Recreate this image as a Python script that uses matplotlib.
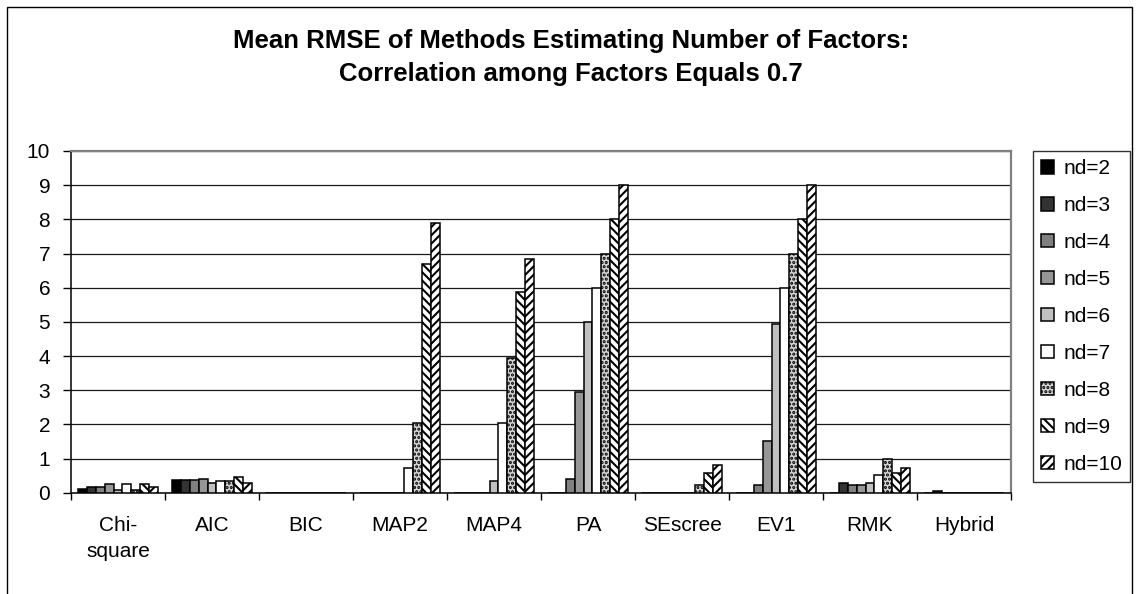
import matplotlib
matplotlib.use("Agg")
import matplotlib.pyplot as plt
import matplotlib.patches as mpatches
import numpy as np

plt.rcParams['font.family'] = ['Liberation Sans', 'DejaVu Sans']
plt.rcParams['hatch.linewidth'] = 1.5

# Methods on the x axis and mean RMSE for each number of factors (nd)
methods = ['Chi-\nsquare', 'AIC', 'BIC', 'MAP2', 'MAP4', 'PA', 'SEscree', 'EV1', 'RMK', 'Hybrid']
series_labels = ['nd=2', 'nd=3', 'nd=4', 'nd=5', 'nd=6', 'nd=7', 'nd=8', 'nd=9', 'nd=10']

nd2 = [0.12, 0.37, 0, 0, 0, 0, 0, 0, 0, 0]
nd3 = [0.17, 0.37, 0, 0, 0, 0, 0, 0, 0.29, 0.05]
nd4 = [0.17, 0.37, 0, 0, 0, 0.40, 0, 0.22, 0.22, 0]
nd5 = [0.26, 0.41, 0, 0, 0, 2.96, 0, 1.52, 0.22, 0]
nd6 = [0.08, 0.27, 0, 0, 0.34, 5.00, 0, 4.95, 0.28, 0]
nd7 = [0.26, 0.35, 0, 0.72, 2.05, 6.00, 0, 6.00, 0.53, 0]
nd8 = [0.08, 0.35, 0, 2.05, 3.93, 7.00, 0.22, 7.00, 1.00, 0]
nd9 = [0.26, 0.47, 0, 6.68, 5.87, 8.00, 0.58, 8.00, 0.59, 0]
nd10 = [0.17, 0.27, 0, 7.90, 6.85, 9.00, 0.81, 9.00, 0.71, 0]
series = [nd2, nd3, nd4, nd5, nd6, nd7, nd8, nd9, nd10]

# grayscale fills / patterns per series
fills = ['#000000', '#333333', '#808080', '#969696', '#c0c0c0', '#ffffff', '#d4d4d4', '#ffffff', '#ffffff']
hatches = [None, None, None, None, None, None, '....', '\\\\\\\\', '////']

W, H = 1138, 594
fig = plt.figure(figsize=(W / 100, H / 100), dpi=100)
fig.patch.set_facecolor('white')

# outer chart frame
fig.add_artist(mpatches.Rectangle((7 / W, -0.02), (1132 - 7) / W, 1 - 7 / H + 0.02,
                                  transform=fig.transFigure, fill=False,
                                  edgecolor='black', linewidth=1.0))

ax = fig.add_axes([71 / W, 1 - 492.7 / H, (1011 - 71) / W, (492.7 - 151) / H])

n_series = len(series)
bar_w = 1.0 / (n_series + 1.5)
x = np.arange(len(methods)) + 0.5

handles = []
for i, vals in enumerate(series):
    offs = (i - (n_series - 1) / 2) * bar_w
    ax.bar(x + offs, vals, width=bar_w, color=fills[i], edgecolor='black',
           linewidth=1.1, hatch=hatches[i], zorder=3)
    handles.append(mpatches.Patch(facecolor=fills[i], edgecolor='black',
                                  linewidth=1.1, hatch=hatches[i], label=series_labels[i]))

ax.set_xlim(0, len(methods))
ax.set_ylim(0, 10)
ax.set_yticks(range(0, 11))
ax.yaxis.grid(True, color='#1a1a1a', linewidth=0.9, zorder=0)
ax.set_axisbelow(True)

ax.set_xticks(x)
ax.set_xticklabels(methods, fontsize=15)
ax.set_xticks(np.arange(len(methods) + 1), minor=True)
ax.tick_params(axis='x', which='major', length=0, pad=17)
ax.tick_params(axis='x', which='minor', length=5, width=1, direction='out')
ax.tick_params(axis='y', length=6, width=1, direction='out', pad=9, labelsize=15)
for lbl in ax.get_xticklabels():
    lbl.set_linespacing(1.45)

for side in ['left', 'bottom']:
    ax.spines[side].set_color('black')
    ax.spines[side].set_linewidth(1.1)
for side in ['top', 'right']:
    ax.spines[side].set_color('#808080')
    ax.spines[side].set_linewidth(1.6)

fig.text(571 / W, 1 - 41 / H, 'Mean RMSE of Methods Estimating Number of Factors:',
         ha='center', va='center', fontsize=18.5, fontweight='bold')
fig.text(571 / W, 1 - 74 / H, 'Correlation among Factors Equals 0.7',
         ha='center', va='center', fontsize=18.5, fontweight='bold')

leg = fig.legend(handles=handles, loc='upper left',
                 bbox_to_anchor=(1033 / W, 1 - 151 / H), bbox_transform=fig.transFigure,
                 borderaxespad=0, fontsize=15, frameon=True, fancybox=False,
                 edgecolor='black', handlelength=0.6, handleheight=0.6,
                 handletextpad=0.45, labelspacing=0.86, borderpad=0.4)
leg.get_frame().set_linewidth(1.0)

fig.savefig('out.png', dpi=100)
